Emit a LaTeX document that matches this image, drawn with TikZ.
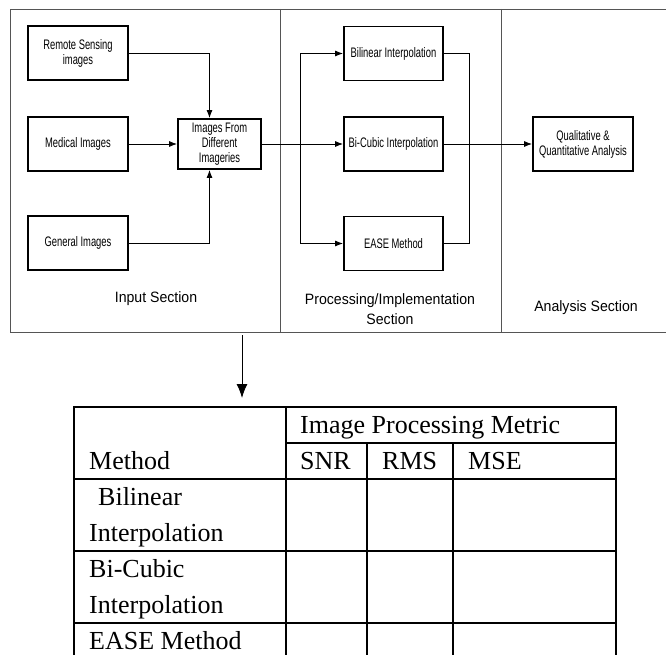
\documentclass[tikz,border=0pt]{standalone}
\usepackage{fontspec}
\setmainfont{Liberation Serif}
\newfontfamily\boxfont[FakeStretch=0.68]{Liberation Sans}
\newfontfamily\secfont[FakeStretch=0.94]{Liberation Sans}
\usetikzlibrary{positioning}
\usetikzlibrary{arrows.meta}
\definecolor{framegray}{HTML}{555555}

\begin{document}
\begin{tikzpicture}[x=1pt, y=-1pt]
      \tikzstyle{block}=[draw, line width=1.9pt, rectangle, minimum width=100pt, minimum height=54pt, align=center, inner sep=2pt, font={\boxfont\fontsize{13.8}{15}\selectfont}]
      \tikzstyle{section}=[align=center, font={\secfont\fontsize{15}{20}\selectfont}]
      \tikzstyle{flow}=[line width=0.8pt, -{Latex[length=8pt, width=6pt]}]
      \tikzstyle{wire}=[line width=0.8pt]
      \tikzstyle{cell}=[anchor=base west, inner sep=0pt, font=\fontsize{26}{36}\selectfont]
      \tikzstyle{grid}=[line width=1.4pt]

      \useasboundingbox (0,0) rectangle (666,655);

      % sections
      \draw[framegray, line width=0.9pt] (666,9) -- (10,9) -- (10,332) -- (666,332);
      \draw[framegray, line width=0.9pt] (280,9) -- (280,332);
      \draw[framegray, line width=0.9pt] (501,9) -- (501,332);

      \node[section] (input) at (156,299) {Input Section};
      \node[section] (proc) at (390,309) {Processing/Implementation\\Section};
      \node[section] (anal) at (586,308) {Analysis Section};

      % input
      \node[block] (remote) at (78,53) {Remote Sensing\\images};
      \node[block] (medical) at (78,144) {Medical Images};
      \node[block] (general) at (78,243) {General Images};
      \node[block, minimum width=83pt, minimum height=50pt] (imgs) at (219.5,144) {Images From\\Different\\Imageries};

      \draw[flow] (remote.east) -| ([xshift=-10pt]imgs.north);
      \draw[flow] (medical) -- (imgs);
      \draw[flow] (general.east) -| ([xshift=-10pt]imgs.south);

      % processing
      \node[block, minimum width=99pt] (bilinear) at (393.5,53.5) {Bilinear Interpolation};
      \node[block, minimum width=99pt] (bicubic) at (393.5,144) {Bi-Cubic Interpolation};
      \node[block, minimum width=99pt] (ease) at (393.5,243.5) {EASE Method};

      \coordinate (split) at (300,144);
      \coordinate (join) at (469,144);
      \draw[wire] (imgs.east) -- (split);
      \draw[flow] (split) |- (bilinear.west);
      \draw[flow] (split) -- (bicubic.west);
      \draw[flow] (split) |- (ease.west);
      \draw[wire] (bilinear.east) -| (join);
      \draw[wire] (ease.east) -| (join);

      % analysis
      \node[block] (quality) at (583,144) {Qualitative \&\\Quantitative Analysis};
      \draw[flow] (bicubic.east) -- (quality.west);

      % down to the table
      \coordinate (out) at (242,335);
      \coordinate (in) at (242,398);
      \draw[line width=1pt, -{Latex[length=14pt, width=11pt]}] (out) -- (in);

      % table
      \draw[grid] (74,655) -- (74,407) -- (616,407) -- (616,655);
      \draw[grid] (286,407) -- (286,655);
      \draw[grid] (367,443) -- (367,655);
      \draw[grid] (453,443) -- (453,655);
      \draw[grid] (286,443) -- (616,443);
      \draw[grid] (74,479) -- (616,479);
      \draw[grid] (74,551) -- (616,551);
      \draw[grid] (74,623) -- (616,623);

      \node[cell] (metric) at (300,433) {Image Processing Metric};
      \node[cell] (method) at (89,469) {Method};
      \node[cell] (snr) at (300,469) {SNR};
      \node[cell] (rms) at (382,469) {RMS};
      \node[cell] (mse) at (468,469) {MSE};
      \node[cell] (bil) at (98,505) {Bilinear};
      \node[cell] (bilb) at (89,541) {Interpolation};
      \node[cell] (bic) at (89,577) {Bi-Cubic};
      \node[cell] (bicb) at (89,613) {Interpolation};
      \node[cell] (eas) at (89,649) {EASE Method};
    \end{tikzpicture}
\end{document}
